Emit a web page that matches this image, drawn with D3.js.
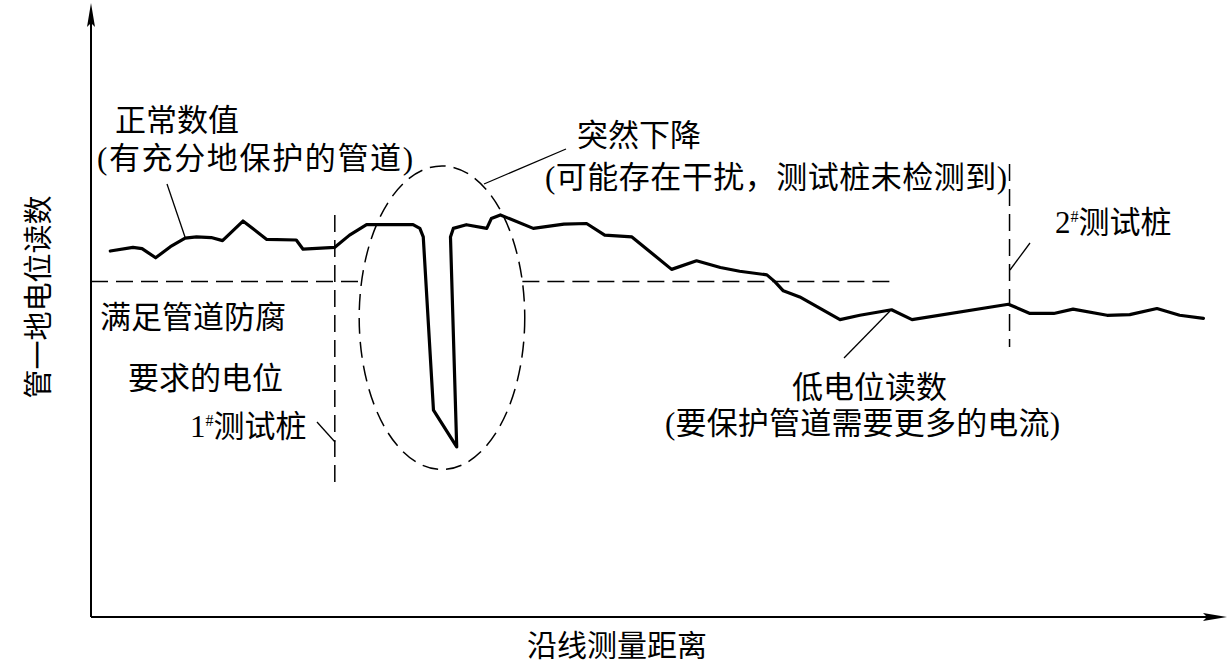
<!DOCTYPE html>
<html>
<head>
<meta charset="utf-8">
<script src="https://cdn.jsdelivr.net/npm/d3@7"></script>
<style>
  html, body { margin: 0; padding: 0; background: #fff; }
  svg { display: block; }
  text { font-family: "Liberation Serif", "Noto Sans CJK SC", serif; fill: #000; }
</style>
</head>
<body>
<svg id="chart" width="1229" height="663"></svg>
<script>
// 沿线测量距离 (0-100) / 管地电位读数 (相对值 0-100)
const distance = [1.7, 3.7, 4.5, 5.7, 7.0, 8.3, 9.3, 10.6, 11.6, 13.4, 15.5, 18.1, 18.7, 21.5,
    22.8, 24.3, 28.4, 29.0, 29.3, 30.2, 32.25, 31.7, 31.95, 33.1, 34.9, 35.3, 36.1, 39.0,
    41.7, 43.7, 45.3, 47.7, 51.2, 53.4, 55.5, 57.2, 59.6, 60.3, 61.05, 62.5, 66.05, 67.8,
    70.6, 72.4, 80.9, 82.8, 84.9, 86.6, 89.6, 91.6, 94.0, 96.0, 98.1];
const potential = [59.8, 60.4, 60.2, 58.7, 60.5, 61.9, 62.1, 62.0, 61.5, 64.7, 61.7, 61.6, 60.1, 60.4,
    62.4, 64.1, 64.1, 63.5, 62.1, 33.8, 27.8, 62.1, 63.5, 64.1, 63.5, 65.1, 65.7, 63.5,
    64.2, 64.3, 62.4, 62.1, 56.8, 58.2, 57.1, 56.5, 55.9, 54.8, 53.3, 52.3, 48.6, 49.3,
    50.2, 48.6, 51.1, 49.6, 49.6, 50.3, 49.3, 49.4, 50.4, 49.3, 48.8];

// 满足管道防腐要求的电位
const protectionLevel = 54.8;
// 1#、2# 测试桩位置 与 虚线上下端
const testPosts = [21.5, 81.0];
const testPostSpans = [[65.7, 21.6], [74.0, 44.1]];
// 突然下降处的虚线椭圆: 中心 / 半径
const dropCenter = [30.95, 48.9];
const dropRadius = [7.3, 24.8];

const axisTitles = ["沿线测量距离", "管一地电位读数"];

const svg = d3.select("#chart");

const x = d3.scaleLinear().domain([0, 100]).range([91, 1225]);
const y = d3.scaleLinear().domain([0, 100]).range([617, 5]);

// 坐标轴 (只有箭头, 没有刻度)
const drawAxes = () => {
    const g = svg.append("g").attr("class", "axes");
    g.append("line")
        .attr("x1", x(0)).attr("y1", y(0))
        .attr("x2", x(0)).attr("y2", y(100) + 10)
        .attr("stroke", "#000").attr("stroke-width", 2);
    g.append("line")
        .attr("x1", x(0)).attr("y1", y(0))
        .attr("x2", x(100) - 10).attr("y2", y(0))
        .attr("stroke", "#000").attr("stroke-width", 2);
    // 箭头
    const tx = x(0), ty = y(100);
    g.append("path")
        .attr("d", `M${tx},${ty - 2}L${tx + 4},${ty + 22}L${tx},${ty + 18}L${tx - 4},${ty + 22}Z`)
        .attr("fill", "#000");
    const rx = x(100), ry = y(0);
    g.append("path")
        .attr("d", `M${rx + 2},${ry}L${rx - 22},${ry - 4}L${rx - 18},${ry}L${rx - 22},${ry + 4}Z`)
        .attr("fill", "#000");

    svg.append("text")
        .attr("x", 617).attr("y", 656)
        .attr("text-anchor", "middle")
        .style("font-size", "30px")
        .text(axisTitles[0]);
    svg.append("text")
        .attr("transform", "translate(49,297) rotate(-90)")
        .attr("text-anchor", "middle")
        .style("font-size", "29px")
        .text(axisTitles[1]);
};

// 参考虚线
const drawReferences = () => {
    const g = svg.append("g").attr("class", "refs")
                .attr("fill", "none").attr("stroke", "#000")
                .attr("stroke-width", 1.5).attr("stroke-dasharray", "17,8");

    // 水平线在椭圆内断开
    const dy = (protectionLevel - dropCenter[1]) / dropRadius[1];
    const half = dropRadius[0] * Math.sqrt(1 - dy * dy);
    [[0, dropCenter[0] - half], [dropCenter[0] + half, 70.6]].forEach(([a, b]) => {
        g.append("line")
            .attr("x1", x(a)).attr("x2", x(b))
            .attr("y1", y(protectionLevel)).attr("y2", y(protectionLevel));
    });

    g.selectAll(".post")
        .data(testPosts)
        .enter()
        .append("line")
        .attr("class", "post")
        .attr("x1", d => x(d)).attr("x2", d => x(d))
        .attr("y1", (d, i) => y(testPostSpans[i][0]))
        .attr("y2", (d, i) => y(testPostSpans[i][1]));

    g.append("ellipse")
        .attr("cx", x(dropCenter[0])).attr("cy", y(dropCenter[1]))
        .attr("rx", x(dropRadius[0]) - x(0))
        .attr("ry", y(0) - y(dropRadius[1]))
        .attr("stroke-dasharray", "16,8");
};

const drawReading = () => {
    const line = d3.line()
                    .x(d => x(d[0]))
                    .y(d => y(d[1]));
    svg.append("path")
        .datum(d3.zip(distance, potential))
        .attr("d", line)
        .attr("fill", "none")
        .attr("stroke", "#000")
        .attr("stroke-width", 3.2)
        .attr("stroke-linejoin", "round")
        .attr("stroke-linecap", "round");
};

// 文字标注和引线
const drawNotes = () => {
    const leaders = [
        [167, 184, 185, 237],
        [484, 184, 566, 149],
        [317, 422, 335, 442],
        [1010, 270, 1030, 243],
        [890, 311, 844, 358]
    ];
    svg.append("g")
        .selectAll("line")
        .data(leaders)
        .enter()
        .append("line")
        .attr("x1", d => d[0]).attr("y1", d => d[1])
        .attr("x2", d => d[2]).attr("y2", d => d[3])
        .attr("stroke", "#000").attr("stroke-width", 1.3);

    const notes = [
        { t: "正常数值", x: 115, y: 131 },
        { t: "(有充分地保护的管道)", x: 97, y: 169, w: 316 },
        { t: "突然下降", x: 577, y: 146 },
        { t: "(可能存在干扰，测试桩未检测到)", x: 545, y: 188, w: 462 },
        { t: "满足管道防腐", x: 100, y: 328 },
        { t: "要求的电位", x: 128, y: 389 },
        { t: "低电位读数", x: 792, y: 398 },
        { t: "(要保护管道需要更多的电流)", x: 665, y: 434, w: 395 }
    ];
    svg.append("g")
        .selectAll("text")
        .data(notes)
        .enter()
        .append("text")
        .attr("x", d => d.x).attr("y", d => d.y)
        .attr("textLength", d => d.w || null)
        .attr("lengthAdjust", "spacing")
        .style("font-size", "31px")
        .text(d => d.t);

    // 测试桩编号带上标 #
    const posts = [{ n: "1", x: 190, y: 437 }, { n: "2", x: 1055, y: 233 }];
    posts.forEach(p => {
        const t = svg.append("text")
                    .attr("x", p.x).attr("y", p.y)
                    .style("font-size", "31px");
        t.append("tspan").text(p.n);
        t.append("tspan").attr("dy", -11).style("font-size", "16px").text("#");
        t.append("tspan").attr("dy", 11).text("测试桩");
    });
};

drawReferences();
drawReading();
drawAxes();
drawNotes();
</script>
</body>
</html>
